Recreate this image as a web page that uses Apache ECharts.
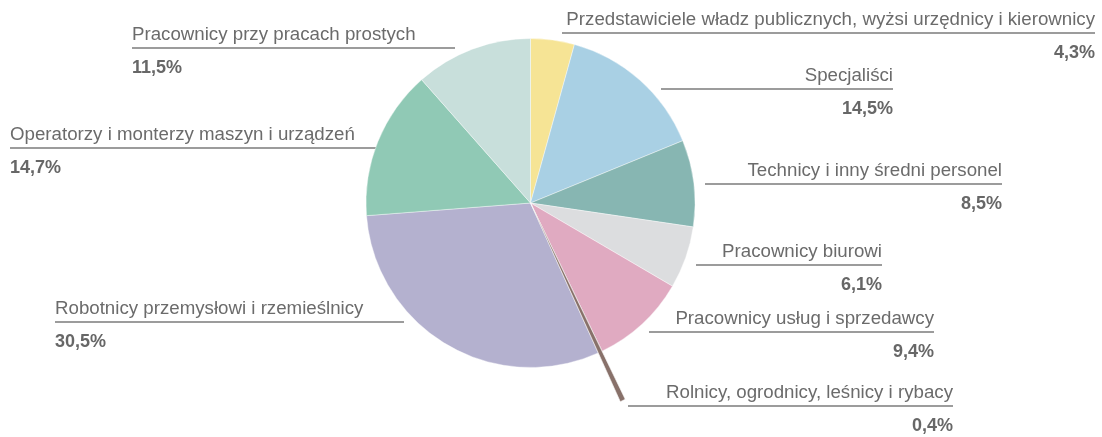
<!DOCTYPE html>
<html>
<head>
<meta charset="utf-8">
<script src="https://cdn.jsdelivr.net/npm/echarts@6/dist/echarts.min.js"></script>
<style>
  html, body { margin: 0; padding: 0; background: #ffffff; }
  #chart { width: 1102px; height: 437px; }
</style>
</head>
<body>
<div id="chart"></div>
<script>
// Occupational groups, clockwise from 12 o'clock
const categories = [
  'Przedstawiciele władz publicznych, wyżsi urzędnicy i kierownicy',
  'Specjaliści',
  'Technicy i inny średni personel',
  'Pracownicy biurowi',
  'Pracownicy usług i sprzedawcy',
  'Rolnicy, ogrodnicy, leśnicy i rybacy',
  'Robotnicy przemysłowi i rzemieślnicy',
  'Operatorzy i monterzy maszyn i urządzeń',
  'Pracownicy przy pracach prostych'
];

// Share of employed, %
const shares = [4.3, 14.5, 8.5, 6.1, 9.4, 0.4, 30.5, 14.7, 11.5];

const sliceColors = [
  '#f6e495', '#a9d0e4', '#87b6b2', '#dcdddf', '#e0aac1',
  '#88716a', '#b4b1cf', '#90c9b5', '#c8dfdb'
];

// The thin group that is drawn reaching out beyond the rim
const extendedGroup = 'Rolnicy, ogrodnicy, leśnicy i rybacy';

// Label placement: side of the text, text anchor x, guide-line y, inner end of guide line
const labelPlacement = [
  { side: 'right', x: 1095, y: 33,  inner: 562 },
  { side: 'right', x: 893,  y: 89,  inner: 661 },
  { side: 'right', x: 1002, y: 184, inner: 705 },
  { side: 'right', x: 882,  y: 265, inner: 696 },
  { side: 'right', x: 934,  y: 332, inner: 649 },
  { side: 'right', x: 953,  y: 406, inner: 628 },
  { side: 'left',  x: 55,   y: 322, inner: 404 },
  { side: 'left',  x: 10,   y: 148, inner: 383 },
  { side: 'left',  x: 132,  y: 48,  inner: 455 }
];

const FONT = '"Liberation Sans", Arial, Helvetica, sans-serif';
const CENTER = [530.5, 203];
const NAME_LINE = 27;

function formatShare(v) {
  return v.toFixed(1).replace('.', ',') + '%';
}

const chart = echarts.init(document.getElementById('chart'), null, { renderer: 'canvas' });

chart.setOption({
  animation: false,
  backgroundColor: '#ffffff',
  series: [
    {
      type: 'pie',
      center: CENTER,
      radius: 164.5,
      startAngle: 90,
      clockwise: true,
      avoidLabelOverlap: false,
      emphasis: { disabled: true },
      itemStyle: { borderColor: '#ffffff', borderWidth: 0.4 },
      data: categories.map((name, i) => ({
        name: name,
        value: shares[i],
        itemStyle: { color: sliceColors[i] }
      })),
      label: {
        show: true,
        fontFamily: FONT,
        formatter: p => '{n|' + p.name + '}\n{v|' + formatShare(p.value) + '}',
        rich: {
          n: { fontSize: 18.7, lineHeight: NAME_LINE, color: '#6b6b6b', fontFamily: FONT },
          v: { fontSize: 18, lineHeight: 40, color: '#676767', fontWeight: 'bold', fontFamily: FONT }
        }
      },
      labelLine: {
        show: true,
        smooth: false,
        lineStyle: { color: '#7b7b7b', width: 1.5 }
      },
      labelLayout: p => {
        const L = labelPlacement[p.dataIndex];
        return {
          x: L.x,
          y: L.y - NAME_LINE,
          align: L.side,
          verticalAlign: 'top',
          labelLinePoints: [[L.inner, L.y], [L.inner, L.y], [L.x, L.y]]
        };
      }
    },
    {
      // Same values again, only the extended group visible, with a longer radius
      type: 'pie',
      center: CENTER,
      radius: 218,
      startAngle: 90,
      clockwise: true,
      silent: true,
      z: 3,
      emphasis: { disabled: true },
      label: { show: false },
      labelLine: { show: false },
      data: categories.map((name, i) => ({
        name: name,
        value: shares[i],
        itemStyle: name === extendedGroup
          ? { color: sliceColors[i], borderColor: '#ffffff', borderWidth: 0.6 }
          : { color: 'transparent', borderWidth: 0 }
      }))
    }
  ]
});
</script>
</body>
</html>
